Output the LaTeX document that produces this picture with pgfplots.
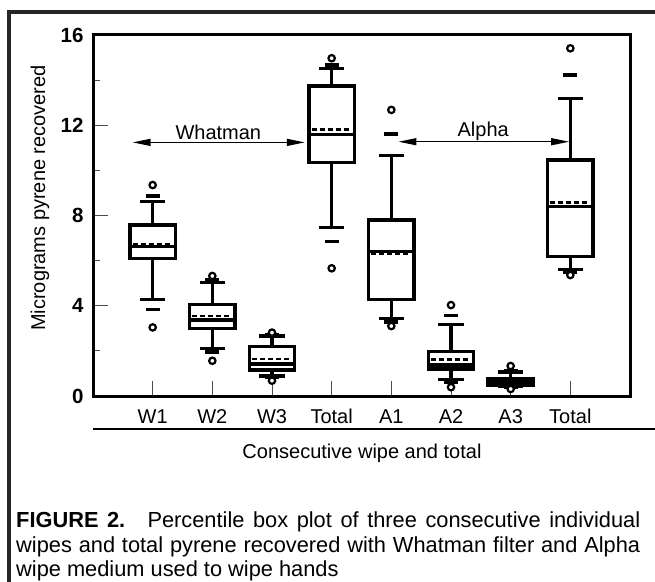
\documentclass[border=0pt]{standalone}
\usepackage{fontspec}
\setmainfont{Liberation Sans}
\usepackage{pgfplots}
\pgfplotsset{compat=1.18}
\usepgfplotslibrary{statistics}
\usetikzlibrary{arrows.meta}

\begin{document}
\begin{tikzpicture}
\begin{axis}[
  at={(93pt,185pt)}, anchor=south west,
  scale only axis, width=537pt, height=361pt,
  xmin=0, xmax=9, ymin=0, ymax=16,
  xtick={1,2,3,4,5,6,7,8},
  xticklabels={W1,W2,W3,Total,A1,A2,A3,Total},
  ytick={0,4,8,12,16}, minor ytick={2,6,10,14},
  xtick pos=left, ytick pos=left,
  tick align=inside,
  major tick length=15pt, minor tick length=7pt,
  tick style={black!70, line width=0.9pt},
  axis line style={line width=3pt},
  /pgf/number format/assume math mode=true,
  tick label style={font=\fontsize{20}{20}\selectfont},
  yticklabel style={font=\fontsize{20.5}{20.5}\selectfont\bfseries, xshift=-6pt},
  xticklabel style={anchor=base, yshift=-27pt},
  boxplot/draw direction=y,
  boxplot/box extend=0.76,
  boxplot/whisker extend=0.42,
  boxplot/every box/.style={line width=3.2pt},
  boxplot/every whisker/.style={line width=3.2pt},
  boxplot/every median/.style={line width=3.2pt},
  boxplot/draw/average/.code={%
    \draw[line width=2.8pt, dash pattern=on 5pt off 3pt]
      (boxplot box cs:\pgfplotsboxplotvalue{average},0.06) --
      (boxplot box cs:\pgfplotsboxplotvalue{average},0.94);
  },
  clip=false,
]
% Whatman
\addplot[black, boxplot prepared={draw position=1,
  lower whisker=4.26, lower quartile=6.10, median=6.62, average=6.74,
  upper quartile=7.58, upper whisker=8.63}] coordinates {};
\addplot[black, boxplot prepared={draw position=2,
  lower whisker=2.11, lower quartile=3.00, median=3.37, average=3.55,
  upper quartile=4.06, upper whisker=5.02}] coordinates {};
\addplot[black, boxplot prepared={draw position=3,
  lower whisker=0.89, lower quartile=1.15, median=1.42, average=1.64,
  upper quartile=2.19, upper whisker=2.66}] coordinates {};
\addplot[black, boxplot prepared={draw position=4,
  lower whisker=7.48, lower quartile=10.36, median=11.60, average=11.82,
  upper quartile=13.74, upper whisker=14.52}] coordinates {};
% Alpha
\addplot[black, boxplot prepared={draw position=5,
  lower whisker=3.44, lower quartile=4.29, median=6.40, average=6.33,
  upper quartile=7.80, upper whisker=10.65}] coordinates {};
\addplot[black, boxplot prepared={draw position=6,
  lower whisker=0.74, lower quartile=1.20, median=1.37, average=1.60,
  upper quartile=1.99, upper whisker=3.18}] coordinates {};
% A3 box is so narrow that it prints solid black
\addplot[black, boxplot/every box/.style={line width=3.2pt, fill=black},
  boxplot prepared={draw position=7,
  lower whisker=0.41, lower quartile=0.46, median=0.60, average=0.65,
  upper quartile=0.78, upper whisker=1.06}] coordinates {};
\addplot[black, boxplot prepared={draw position=8,
  lower whisker=5.59, lower quartile=6.17, median=8.39, average=8.59,
  upper quartile=10.46, upper whisker=13.19}] coordinates {};

% 5th and 95th percentiles
\addplot[black, only marks, mark=-, mark size=7pt, mark options={line width=3.6pt}]
  coordinates {(1,3.84)(1,8.87)(2,1.96)(2,5.14)(3,0.83)(3,2.72)(4,6.84)(4,14.67)
               (5,3.29)(5,11.60)(6,0.59)(6,3.56)(7,0.38)(7,1.12)(8,5.50)(8,14.23)};
% min and max
\addplot[black, only marks, mark=*, mark size=3.2pt, mark options={draw=black, fill=white, line width=2.2pt}]
  coordinates {(1,3.04)(1,9.35)(2,1.56)(2,5.32)(3,0.68)(3,2.81)(4,5.66)(4,14.97)
               (5,3.10)(5,12.68)(6,0.39)(6,4.03)(7,0.31)(7,1.33)(8,5.36)(8,15.41)};

\draw[line width=1.4pt, {Triangle[length=18pt,width=7pt]}-{Triangle[length=18pt,width=7pt]}]
  (axis cs:0.665,11.24) -- (axis cs:3.55,11.24);
\node[anchor=base, font=\fontsize{20}{20}\selectfont] at (axis cs:2.1,11.38) {Whatman};
\draw[line width=1.4pt, {Triangle[length=18pt,width=7pt]}-{Triangle[length=18pt,width=7pt]}]
  (axis cs:5.12,11.27) -- (axis cs:7.98,11.27);
\node[anchor=base, font=\fontsize{20}{20}\selectfont] at (axis cs:6.54,11.49) {Alpha};
\end{axis}

% rule under the tick labels, axis titles, caption and frame
\draw[line width=1.5pt] (93pt,152pt) -- (665pt,152pt);
\node[anchor=base, font=\fontsize{20}{20}\selectfont] at (362pt,123pt) {Consecutive wipe and total};
\node[rotate=90, anchor=base, font=\fontsize{20}{20}\selectfont] at (45pt,383pt) {Micrograms pyrene recovered};
\node[anchor=north west, inner sep=0pt, text width=624pt, align=justify,
      font=\fontsize{21.8}{24.5}\selectfont] at (16pt,69pt)
  {\textbf{FIGURE 2.}\hspace{0.3em} Percentile box plot of three consecutive individual\linebreak
   wipes and total pyrene recovered with Whatman filter and Alpha\linebreak
   wipe medium used to wipe hands};
\draw[line width=4pt, black!85] (9pt,-10pt) -- (9pt,569pt) -- (665pt,569pt);

\pgfresetboundingbox
\path[use as bounding box] (0,0) rectangle (655pt,581pt);
\end{tikzpicture}
\end{document}
